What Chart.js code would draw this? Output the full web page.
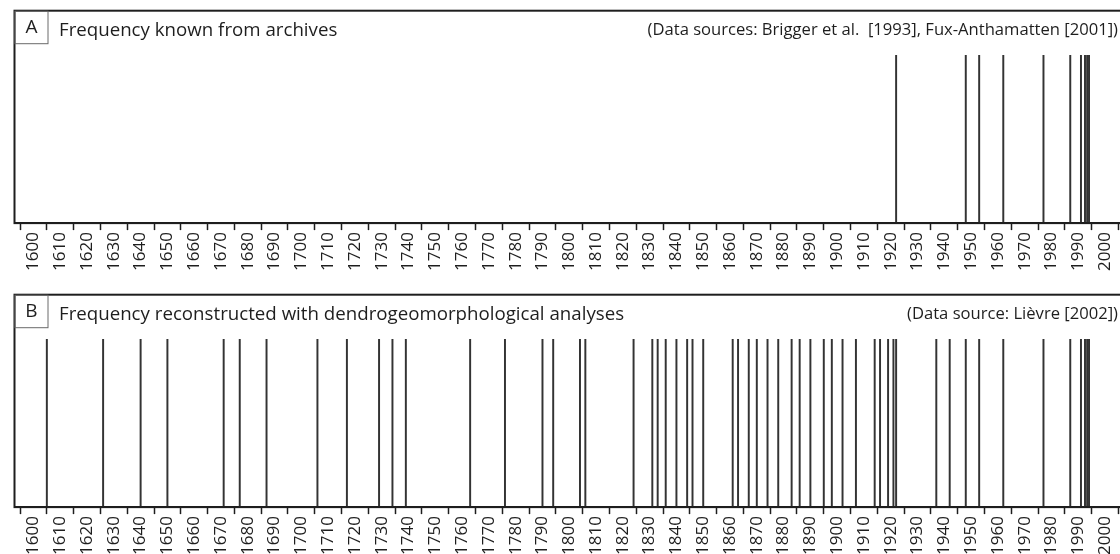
<!DOCTYPE html>
<html>
<head>
<meta charset="utf-8">
<script src="https://cdn.jsdelivr.net/npm/chart.js@4"></script>
<style>
  html, body { margin: 0; padding: 0; background: #fff; overflow: hidden; }
  #wrap { position: relative; width: 1120px; height: 554px; overflow: hidden; }
  canvas { position: absolute; left: 0; }
</style>
</head>
<body>
<div id="wrap">
  <canvas id="panelA" width="1132" height="284" style="top:0"></canvas>
  <canvas id="panelB" width="1132" height="284" style="top:284px"></canvas>
</div>
<script>
// Années des événements
const eventsA = [1922, 1948, 1953, 1962, 1977, 1987, 1991, 1992.5, 1993.3, 1994];
const eventsB = [1605, 1626, 1640, 1650, 1671, 1677, 1687, 1706, 1717, 1729, 1734, 1739,
  1763, 1776, 1790, 1794, 1804, 1806, 1824, 1831, 1833, 1836, 1840, 1844, 1846, 1850,
  1861, 1863, 1867, 1870, 1874, 1878, 1883, 1886, 1890, 1895, 1898, 1902, 1907,
  1914, 1916, 1919, 1921, 1922, 1937, 1942, 1948, 1953, 1962, 1977, 1987,
  1991, 1992.5, 1993.3, 1994];

// Graduations de l'axe
const tickYears = [1600, 1610, 1620, 1630, 1640, 1650, 1660, 1670, 1680, 1690, 1700,
  1710, 1720, 1730, 1740, 1750, 1760, 1770, 1780, 1790, 1800, 1810, 1820, 1830, 1840,
  1850, 1860, 1870, 1880, 1890, 1900, 1910, 1920, 1930, 1940, 1950, 1960, 1970, 1980,
  1990, 2000];

const titleA = 'Frequency known from archives';
const sourceA = '(Data sources: Brigger et al.  [1993], Fux-Anthamatten [2001])';
const titleB = 'Frequency reconstructed with dendrogeomorphological analyses';
const sourceB = '(Data source: Lièvre [2002])';

const FONT = "'Open Sans', sans-serif";

// Cadre + étiquette de panneau + textes
const framePlugin = {
  id: 'frame',
  afterDraw(chart, args, opts) {
    const ctx = chart.ctx;
    const a = chart.chartArea;
    ctx.save();
    ctx.strokeStyle = '#1e1e1e';
    ctx.lineWidth = 2;
    ctx.strokeRect(a.left, a.top, a.right - a.left + 20, a.bottom - a.top);

    // petite boîte de la lettre
    ctx.lineWidth = 1;
    ctx.strokeStyle = '#6a6a6a';
    ctx.strokeRect(a.left + 0.5, a.top + 0.5, 33, 32.5);

    ctx.fillStyle = '#1e1e1e';
    ctx.textBaseline = 'middle';
    ctx.font = '19px ' + FONT;
    ctx.textAlign = 'center';
    ctx.fillText(opts.letter, a.left + 17, a.top + 17);
    ctx.font = '18.7px ' + FONT;
    ctx.textAlign = 'left';
    ctx.fillText(opts.title, 59, a.top + 20);
    ctx.font = '16.6px ' + FONT;
    ctx.textAlign = 'right';
    ctx.fillText(opts.source, 1118, a.top + 20);
    ctx.restore();
  }
};

function createPanel(canvasId, letter, title, source, events) {
  const ctx = document.getElementById(canvasId).getContext('2d');
  return new Chart(ctx, {
    type: 'bar',
    data: {
      datasets: [{
        data: events.map(y => ({ x: y, y: 1 })),
        backgroundColor: '#333333',
        barThickness: 1.3,
        borderWidth: 0
      }]
    },
    options: {
      responsive: false,
      animation: false,
      layout: { padding: { top: 10.7, left: 14.5, right: 2.6, bottom: 11 } },
      plugins: {
        legend: { display: false },
        tooltip: { enabled: false },
        frame: { letter: letter, title: title, source: source }
      },
      scales: {
        x: {
          type: 'linear',
          min: 1598,
          max: 2004,
          afterBuildTicks: scale => { scale.ticks = tickYears.map(v => ({ value: v })); },
          grid: {
            display: true,
            drawOnChartArea: false,
            drawTicks: true,
            tickLength: 7,
            tickWidth: 1.5,
            tickColor: '#1e1e1e'
          },
          border: { display: true, width: 2, color: '#1e1e1e' },
          ticks: {
            autoSkip: false,
            minRotation: 90,
            maxRotation: 90,
            padding: 2,
            color: '#1e1e1e',
            font: { family: FONT, size: 17 },
            callback: v => String(v)
          }
        },
        y: {
          display: false,
          min: 0,
          max: 1.266
        }
      }
    },
    plugins: [framePlugin]
  });
}

createPanel('panelA', 'A', titleA, sourceA, eventsA);
createPanel('panelB', 'B', titleB, sourceB, eventsB);
</script>
</body>
</html>
